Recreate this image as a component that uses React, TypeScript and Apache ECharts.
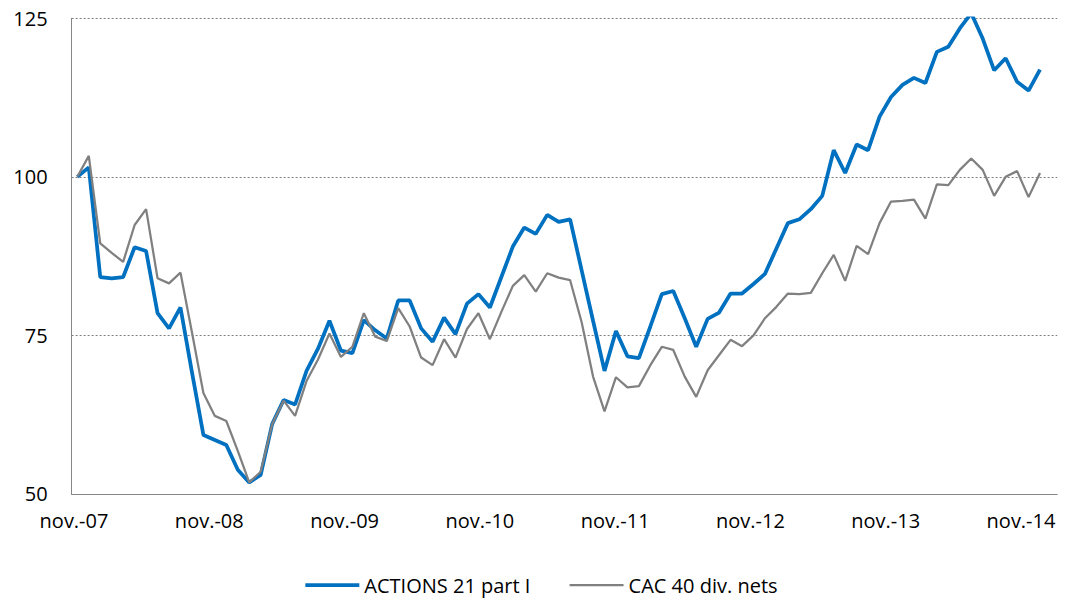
import React, { useEffect, useRef } from "react";
import * as echarts from "echarts";

// French month abbreviations used to name the monthly categories
const monthNames = ["janv.", "févr.", "mars", "avr.", "mai", "juin", "juil.", "août", "sept.", "oct.", "nov.", "déc."];
const startYear = 2007;
const startMonthIndex = 10; // november
const axisMonthCount = 86; // 85 monthly values + one trailing empty slot on the axis

const categories: string[] = Array.from({ length: axisMonthCount }, (_, k) => {
  const m = (startMonthIndex + k) % 12;
  const y = startYear + Math.floor((startMonthIndex + k) / 12);
  return `${monthNames[m]}-${String(y % 100).padStart(2, "0")}`;
});

const tickLabels = ["nov.-07", "nov.-08", "nov.-09", "nov.-10", "nov.-11", "nov.-12", "nov.-13", "nov.-14"];

const seriesNames = ["ACTIONS 21 part I", "CAC 40 div. nets"];

const actions21 = [
  100.0, 101.5, 84.2, 84.0, 84.2, 88.9, 88.3, 78.5, 76.1, 79.4,
  69.2, 59.3, 58.5, 57.7, 53.8, 51.8, 53.0, 61.0, 64.8, 64.1,
  69.4, 72.9, 77.3, 72.6, 72.2, 77.4, 75.8, 74.5, 80.5, 80.5,
  76.1, 74.0, 77.8, 75.2, 80.0, 81.5, 79.4, 84.2, 89.0, 92.0,
  91.0, 94.0, 92.9, 93.3, 85.3, 77.3, 69.4, 75.7, 71.7, 71.4,
  76.4, 81.5, 82.0, 77.7, 73.2, 77.6, 78.6, 81.6, 81.6, 83.1,
  84.7, 88.7, 92.7, 93.3, 94.9, 97.0, 104.2, 100.6, 105.1, 104.2,
  109.5, 112.6, 114.5, 115.6, 114.8, 119.7, 120.5, 123.4, 125.8, 121.8,
  116.8, 118.7, 115.0, 113.6, 116.9,
];

const cac40 = [
  100.0, 103.3, 89.5, 88.0, 86.6, 92.4, 94.9, 84.0, 83.2, 84.9,
  75.5, 65.9, 62.3, 61.5, 56.8, 51.8, 53.5, 61.0, 64.7, 62.3,
  67.8, 71.2, 75.3, 71.6, 73.2, 78.5, 74.8, 74.1, 79.3, 76.4,
  71.5, 70.3, 74.4, 71.5, 76.0, 78.5, 74.4, 78.7, 82.8, 84.5,
  81.9, 84.8, 84.1, 83.7, 77.1, 68.5, 63.0, 68.4, 66.8, 67.0,
  70.3, 73.2, 72.7, 68.5, 65.3, 69.5, 71.9, 74.3, 73.3, 75.0,
  77.7, 79.5, 81.6, 81.5, 81.7, 84.8, 87.7, 83.6, 89.1, 87.8,
  92.7, 96.1, 96.2, 96.4, 93.4, 98.8, 98.7, 101.1, 102.9, 101.1,
  97.0, 100.0, 100.9, 96.8, 100.6,
];

const yMin = 50;
const yMax = 125;
const yInterval = 25;

const FONT = "'Open Sans', sans-serif";
const BLUE = "#0070C0";
const GRAY = "#808080";

export default function App() {
  const ref = useRef<HTMLDivElement>(null);

  useEffect(() => {
    if (!ref.current) return;
    const chart = echarts.init(ref.current, undefined, { renderer: "svg" });
    const gridTop = 18.3;
    const gridBottom = 599 - 493.9;
    chart.setOption({
      animation: false,
      backgroundColor: "#ffffff",
      textStyle: { fontFamily: FONT },
      grid: [
        { left: 71.6, right: 1081 - 1057.2, top: gridTop, bottom: gridBottom, containLabel: false },
        { left: 74, right: 1081 - 1021, top: gridTop, bottom: gridBottom, containLabel: false },
      ],
      legend: {
        data: [
          { name: seriesNames[0], itemStyle: { opacity: 0 }, lineStyle: { color: BLUE, width: 3.75 } },
          { name: seriesNames[1], itemStyle: { opacity: 0 }, lineStyle: { color: GRAY, width: 2.25 } },
        ],
        left: "center",
        top: 570,
        itemWidth: 54,
        itemHeight: 14,
        itemGap: 38,
        itemStyle: { opacity: 0 },
        textStyle: { fontFamily: FONT, fontSize: 20, color: "#000000" },
      },
      xAxis: [
        {
          gridIndex: 0,
          type: "category",
          data: categories,
          boundaryGap: true,
          axisLine: { show: true, lineStyle: { color: "#868686", width: 1 } },
          axisTick: { show: false },
          axisLabel: { show: false },
          splitLine: { show: false },
        },
        {
          gridIndex: 1,
          type: "category",
          data: tickLabels,
          boundaryGap: false,
          axisLine: { show: false },
          axisTick: { show: false },
          axisLabel: {
            show: true,
            interval: 0,
            margin: 17,
            fontFamily: FONT,
            fontSize: 20,
            color: "#000000",
          },
          splitLine: { show: false },
        },
      ],
      yAxis: [
        {
          gridIndex: 0,
          type: "value",
          min: yMin,
          max: yMax,
          interval: yInterval,
          axisLine: { show: true, lineStyle: { color: "#868686", width: 1 } },
          axisTick: { show: false },
          axisLabel: {
            margin: 24,
            fontFamily: FONT,
            fontSize: 20,
            color: "#000000",
          },
          splitLine: {
            show: true,
            lineStyle: { color: "#7f7f7f", width: 1.2, type: [2, 2] },
          },
        },
        {
          gridIndex: 1,
          type: "value",
          min: yMin,
          max: yMax,
          show: false,
        },
      ],
      series: [
        {
          name: seriesNames[0],
          type: "line",
          xAxisIndex: 0,
          yAxisIndex: 0,
          data: actions21,
          symbol: "none",
          showSymbol: false,
          lineStyle: { color: BLUE, width: 3.75 },
          itemStyle: { color: BLUE },
        },
        {
          name: seriesNames[1],
          type: "line",
          xAxisIndex: 0,
          yAxisIndex: 0,
          data: cac40,
          symbol: "none",
          showSymbol: false,
          lineStyle: { color: GRAY, width: 2.25 },
          itemStyle: { color: GRAY },
        },
      ],
    });
    return () => chart.dispose();
  }, []);

  return (
    <div
      ref={ref}
      style={{ position: "absolute", left: 0, top: 0, width: 1081, height: 599 }}
    />
  );
}
